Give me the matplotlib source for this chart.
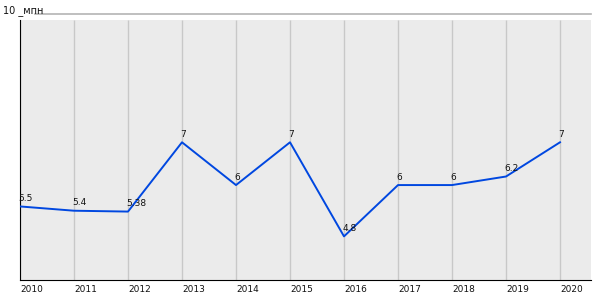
import matplotlib
matplotlib.use("Agg")
import matplotlib.pyplot as plt

years = [2010, 2011, 2012, 2013, 2014, 2015, 2016, 2017, 2018, 2019, 2020]
values = [5.5, 5.4, 5.38, 7, 6, 7, 4.8, 6, 6, 6.2, 7]
labels = ["5.5", "5.4", "5.38", "7", "6", "7", "4.8", "6", "6", "6.2", "7"]
y_top_label = "10 _мпн"

YMIN, YMAX, YBG = 3.78, 10.0, 9.86
XMIN, XMAX = 2010, 2020.574

fig = plt.figure(figsize=(6, 3), dpi=100)
ax = fig.add_axes([20/600, 1-280/300, 571/600, 266/300])
ax.set_xlim(XMIN, XMAX)
ax.set_ylim(YMIN, YMAX)
ax.set_facecolor("white")
ax.axhspan(YMIN, YBG, color="#ebebeb", zorder=0, lw=0)
ax.vlines(years, YMIN, YBG, color="#c8c8c8", lw=1, zorder=1)
ax.plot([2010.28, XMAX], [YMAX, YMAX], color="#b4b4b4", lw=1.2, clip_on=False, zorder=1)

ax.plot(years, values, color="#0047e0", lw=1.4, zorder=3)
for x, y, t in zip(years, values, labels):
    ax.annotate(t, (x, y), xytext=(-1, 2.5), textcoords="offset points",
                ha="left", va="bottom", fontsize=6.5, color="#111111", zorder=4)

for s in ["top", "right"]:
    ax.spines[s].set_visible(False)
ax.spines["left"].set_bounds(YMIN, YBG)
ax.spines["left"].set_color("black")
ax.spines["bottom"].set_color("black")
ax.set_yticks([])
ax.set_xticks(years)
ax.set_xticklabels([str(y) for y in years], ha="left", fontsize=6.5, color="#111111")
ax.tick_params(axis="x", length=0, pad=3.5)
for lab in ax.get_xticklabels():
    lab.set_x(lab.get_position()[0])

fig.text(3/600, 1-11/300, y_top_label, fontsize=7, va="center", ha="left", color="#111111")

fig.savefig("out.png", dpi=100)
